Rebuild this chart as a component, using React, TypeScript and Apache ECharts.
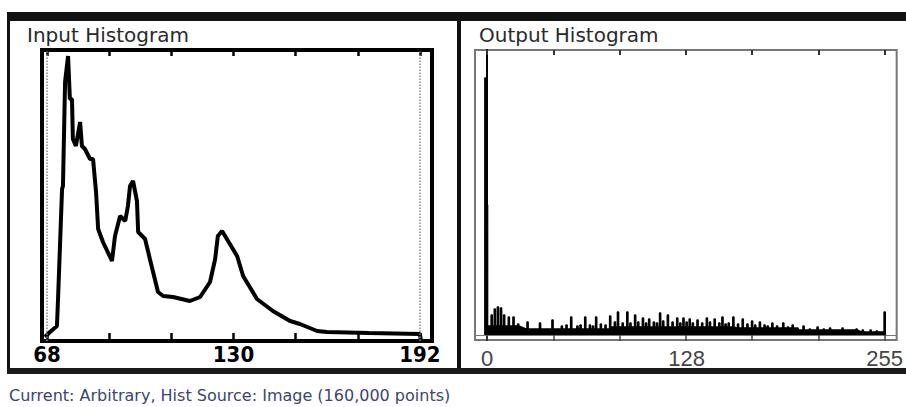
import React, { useEffect, useRef } from "react";
import * as echarts from "echarts";

const inputTitle = "Input Histogram";
const outputTitle = "Output Histogram";
const caption = "Current: Arbitrary, Hist Source: Image (160,000 points)";

const inputTickLabels = [68, 130, 192];
const inputTicks = [68, 88.67, 109.33, 130, 150.67, 171.33, 192];
const inputGuides = [68, 192];
const inputCurve: [number, number][] = [
  [67.3, 4], [69.0, 9], [71.3, 15], [71.7, 45], [73.0, 152], [73.3, 155],
  [74.0, 259], [75.0, 285], [75.6, 242], [76.3, 242], [76.6, 202], [77.6, 195],
  [79.0, 219], [79.6, 195], [80.6, 192], [82.3, 182], [83.3, 182], [84.3, 149],
  [85.0, 112], [86.6, 99], [89.6, 80], [90.6, 105], [92.3, 125], [94.0, 120],
  [94.9, 135], [95.6, 155], [96.6, 160], [97.9, 140], [98.3, 109], [100.6, 102],
  [102.2, 82], [104.9, 49], [106.6, 45], [109.9, 44], [115.5, 40], [118.9, 44],
  [122.2, 59], [123.9, 82], [124.8, 105], [126.2, 110], [127.8, 102], [131.2, 85],
  [133.2, 65], [137.8, 42], [143.1, 30], [148.8, 20], [152.1, 17], [157.8, 10],
  [161.1, 9], [175.0, 8], [192.0, 7], [192.3, 0],
];

const outputTickLabels = [0, 128, 255];
const outputTicks = [0, 42.5, 85, 127.5, 170, 212.5, 255];
// major spikes of the output histogram: bin and height
const outputSpikeBins = [
  -1, 0, 3, 5, 7, 9, 11, 14, 17, 20, 26, 34, 42, 54, 63, 70, 79, 84, 90, 95, 100,
  104, 111, 116, 122, 126, 130, 135, 141, 146, 151, 158, 164, 170, 175, 183, 190,
  196, 203, 212, 220, 228, 237, 246, 255,
];
const outputSpikeHeights = [
  257, 130, 20, 26, 28, 27, 20, 18, 18, 11, 13, 12, 15, 18, 18, 18, 19, 23, 23, 20,
  17, 16, 22, 20, 17, 17, 16, 15, 17, 16, 18, 18, 16, 14, 13, 12, 12, 10, 9, 8,
  7, 7, 6, 5, 23,
];
// minor spikes in the dense band
const outputMinorBins = [
  48, 51, 58, 60, 66, 68, 73, 76, 82, 87, 92, 97, 102, 107, 109, 113, 119, 124,
  128, 132, 138, 143, 149, 153, 155, 161, 167, 172, 178, 180, 186, 193, 199, 207,
  216, 224, 232, 241, 250,
];
const outputMinorHeights = [
  9, 10, 9, 10, 10, 9, 11, 10, 13, 12, 12, 13, 12, 13, 12, 14, 13, 12, 13, 12, 12,
  13, 12, 11, 12, 11, 11, 10, 10, 9, 9, 8, 7, 6, 6, 5, 5, 5, 4,
];
// level of the solid band under the spikes
const outputBaseBins = [-0.5, 25, 80, 160, 200, 240, 254];
const outputBaseLevels = [9, 6, 8, 7, 5, 3, 3];

function baseAt(x: number): number {
  let v = outputBaseLevels[0];
  for (let i = 0; i < outputBaseBins.length; i++) {
    if (x >= outputBaseBins[i]) v = outputBaseLevels[i];
  }
  return v;
}

function buildOutput(): [number, number][] {
  const w = 0.4;
  const pts: [number, number][] = [];
  outputBaseBins.forEach((b, i) => pts.push([b, outputBaseLevels[i]]));
  const bins = outputSpikeBins.concat(outputMinorBins);
  const hs = outputSpikeHeights.concat(outputMinorHeights);
  bins.forEach((b, i) => {
    pts.push([b - w - 0.01, b - w < -0.5 ? 0 : baseAt(b - w)]);
    pts.push([b - w, hs[i]]);
    pts.push([b + w, hs[i]]);
    pts.push([b + w + 0.01, baseAt(b + w)]);
  });
  pts.push([255.5, 0]);
  pts.sort((a, b) => a[0] - b[0]);
  return pts;
}

export default function App() {
  const ref = useRef<HTMLDivElement>(null);
  useEffect(() => {
    if (!ref.current) return;
    const chart = echarts.init(ref.current, null, { renderer: "svg" });
    const option: any = {
      animation: false,
      backgroundColor: "#ffffff",
      grid: [
        { left: 42, top: 50, width: 390, height: 291, show: true, borderColor: "#000", borderWidth: 4, backgroundColor: "transparent" },
        { left: 475, top: 50, width: 422, height: 290, show: true, borderColor: "#777", borderWidth: 2, backgroundColor: "transparent" },
      ],
      xAxis: [
        {
          type: "value", gridIndex: 0, min: 66.33, max: 196, position: "bottom",
          axisLine: { show: false },
          axisTick: { show: true, inside: true, length: 8, customValues: inputTicks, lineStyle: { color: "#000", width: 2.5 } },
          axisLabel: { show: true, customValues: inputTickLabels, margin: 2, color: "#000", fontFamily: "DejaVu Sans Condensed", fontWeight: "bold", fontSize: 22 },
          splitLine: { show: false },
        },
        {
          type: "value", gridIndex: 0, min: 66.33, max: 196, position: "top",
          axisLine: { show: false },
          axisTick: { show: true, inside: true, length: 6, customValues: inputTicks, lineStyle: { color: "#000", width: 2.5 } },
          axisLabel: { show: false },
          splitLine: { show: false },
        },
        {
          type: "value", gridIndex: 1, min: -7.7, max: 262.7, position: "bottom",
          axisLine: { show: true, onZero: true, lineStyle: { color: "#777", width: 1 } },
          axisTick: { show: true, inside: false, length: 6, customValues: outputTicks, lineStyle: { color: "#444", width: 1.5 } },
          axisLabel: { show: true, customValues: outputTickLabels, margin: 7, color: "#444", fontFamily: "Liberation Sans", fontSize: 22 },
          splitLine: { show: false },
        },
        {
          type: "value", gridIndex: 1, min: -7.7, max: 262.7, position: "top",
          axisLine: { show: false },
          axisTick: { show: true, inside: true, length: 5, customValues: outputTicks, lineStyle: { color: "#333", width: 2 } },
          axisLabel: { show: false },
          splitLine: { show: false },
        },
      ],
      yAxis: [
        { type: "value", gridIndex: 0, min: 0, max: 291, show: false, splitLine: { show: false } },
        {
          type: "value", gridIndex: 1, min: -5, max: 285,
          axisLine: { show: true, onZero: true, lineStyle: { color: "#000", width: 2 } },
          axisTick: { show: false }, axisLabel: { show: false }, splitLine: { show: false },
        },
      ],
      series: [
        {
          type: "line", xAxisIndex: 0, yAxisIndex: 0, data: inputCurve, showSymbol: false,
          lineStyle: { color: "#000", width: 4 },
          markLine: {
            silent: true, symbol: "none", label: { show: false },
            lineStyle: { color: "#888", type: "dotted", width: 1.5 },
            data: inputGuides.map((v) => ({ xAxis: v })),
          },
        },
        {
          type: "line", xAxisIndex: 2, yAxisIndex: 1, data: buildOutput(), showSymbol: false,
          lineStyle: { color: "#000", width: 1.4 },
          areaStyle: { color: "#000", opacity: 1 },
        },
      ],
      graphic: [
        { type: "rect", shape: { x: 7, y: 12, width: 899, height: 9 }, style: { fill: "#111" } },
        { type: "rect", shape: { x: 7, y: 12, width: 3, height: 362 }, style: { fill: "#111" } },
        { type: "rect", shape: { x: 457, y: 12, width: 4, height: 360 }, style: { fill: "#111" } },
        { type: "rect", shape: { x: 7, y: 368, width: 899, height: 6 }, style: { fill: "#1a1a1a" } },
        { type: "text", x: 27, y: 25, style: { text: inputTitle, fill: "#2a2a2a", font: '20px "DejaVu Sans"', verticalAlign: "top" } },
        { type: "text", x: 479, y: 25, style: { text: outputTitle, fill: "#2a2a2a", font: '20px "DejaVu Sans"', verticalAlign: "top" } },
        { type: "text", x: 9, y: 387, style: { text: caption, fill: "#3a4570", font: '16px "DejaVu Sans"', verticalAlign: "top" } },
      ],
    };
    chart.setOption(option);
    return () => chart.dispose();
  }, []);
  return <div ref={ref} style={{ position: "fixed", left: 0, top: 0, width: 906, height: 407 }} />;
}
